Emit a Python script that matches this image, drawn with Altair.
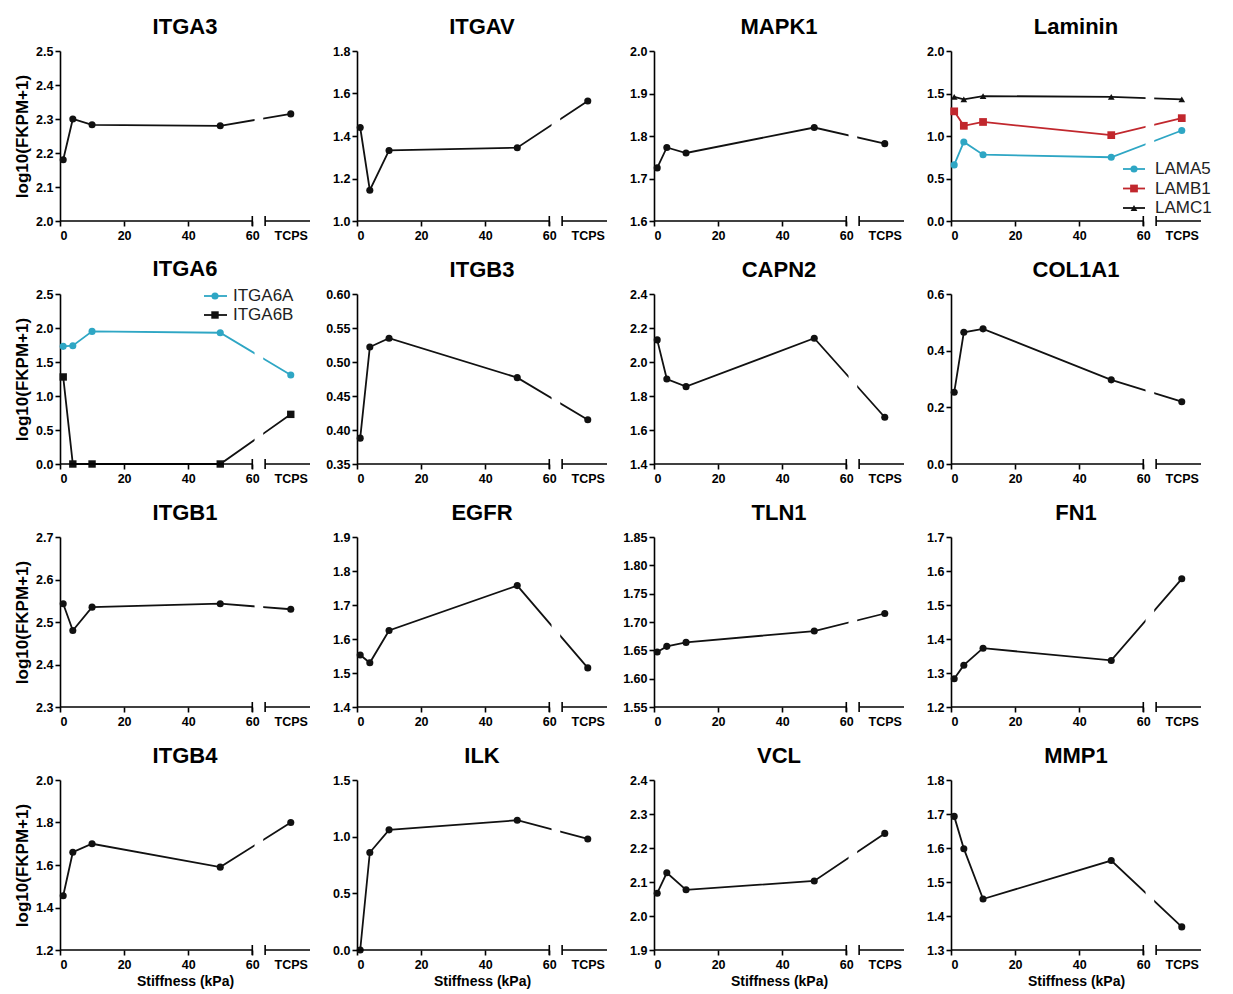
import altair as alt
import pandas as pd

# ---------------- data ----------------
X_POS = [1, 4, 10, 50, 72]          # 72 = position used for "TCPS"
X_TICKS = [0, 20, 40, 60, 72]

ITGA3 = [2.18, 2.30, 2.283, 2.28, 2.315]
ITGAV = [1.44, 1.145, 1.332, 1.345, 1.565]
MAPK1 = [1.725, 1.773, 1.760, 1.820, 1.782]
LAMA5 = [0.66, 0.93, 0.78, 0.75, 1.065]
LAMB1 = [1.29, 1.12, 1.165, 1.01, 1.21]
LAMC1 = [1.46, 1.43, 1.47, 1.46, 1.43]
ITGA6A = [1.73, 1.74, 1.95, 1.93, 1.31]
ITGA6B = [1.28, 0.0, 0.0, 0.0, 0.73]
ITGB3 = [0.388, 0.522, 0.535, 0.477, 0.415]
CAPN2 = [2.13, 1.90, 1.855, 2.14, 1.675]
COL1A1 = [0.253, 0.465, 0.477, 0.297, 0.22]
ITGB1 = [2.543, 2.48, 2.535, 2.543, 2.53]
EGFR = [1.553, 1.53, 1.625, 1.757, 1.515]
TLN1 = [1.647, 1.657, 1.664, 1.684, 1.715]
FN1 = [1.283, 1.323, 1.373, 1.337, 1.577]
ITGB4 = [1.455, 1.66, 1.70, 1.59, 1.80]
ILK = [0.0, 0.86, 1.06, 1.145, 0.98]
VCL = [2.067, 2.127, 2.077, 2.103, 2.243]
MMP1 = [1.693, 1.598, 1.45, 1.563, 1.368]

T_ITGA3 = [2.0, 2.1, 2.2, 2.3, 2.4, 2.5]
T_ITGAV = [1.0, 1.2, 1.4, 1.6, 1.8]
T_MAPK1 = [1.6, 1.7, 1.8, 1.9, 2.0]
T_LAM = [0.0, 0.5, 1.0, 1.5, 2.0]
T_ITGA6 = [0.0, 0.5, 1.0, 1.5, 2.0, 2.5]
T_ITGB3 = [0.35, 0.40, 0.45, 0.50, 0.55, 0.60]
T_CAPN2 = [1.4, 1.6, 1.8, 2.0, 2.2, 2.4]
T_COL1A1 = [0.0, 0.2, 0.4, 0.6]
T_ITGB1 = [2.3, 2.4, 2.5, 2.6, 2.7]
T_EGFR = [1.4, 1.5, 1.6, 1.7, 1.8, 1.9]
T_TLN1 = [1.55, 1.60, 1.65, 1.70, 1.75, 1.80, 1.85]
T_FN1 = [1.2, 1.3, 1.4, 1.5, 1.6, 1.7]
T_ITGB4 = [1.2, 1.4, 1.6, 1.8, 2.0]
T_ILK = [0.0, 0.5, 1.0, 1.5]
T_VCL = [1.9, 2.0, 2.1, 2.2, 2.3, 2.4]
T_MMP1 = [1.3, 1.4, 1.5, 1.6, 1.7, 1.8]

TEAL = "#2ea6c4"
RED = "#c1272d"
BLACK = "#111111"

# ---------------- layout ----------------
W, H = 250, 170
XMAX = 78
FONT = "Liberation Sans"
ONE = pd.DataFrame({"k": [0]})


def panel(title, series, yticks, fmt, col, row, legend=None):
    xs = alt.Scale(domain=[0, XMAX], nice=False, zero=False)
    ys = alt.Scale(domain=[yticks[0], yticks[-1]], nice=False, zero=False)
    xaxis = alt.Axis(
        values=X_TICKS,
        labelExpr="datum.value == 72 ? 'TCPS' : datum.label",
        domain=False,
        tickOpacity={"condition": {"test": "datum.value == 72", "value": 0}, "value": 1},
        title="Stiffness (kPa)" if row == 3 else None,
    )
    yaxis = alt.Axis(values=yticks, format=fmt,
                     title="log10(FKPM+1)" if col == 0 else None)
    layers = []
    for i, (name, vals, color, shape, size) in enumerate(series):
        df = pd.DataFrame({"x": X_POS, "y": vals, "series": name})
        base = alt.Chart(df)
        enc = dict(x=alt.X("x:Q", scale=xs, axis=xaxis),
                   y=alt.Y("y:Q", scale=ys, axis=yaxis))
        layers.append(base.mark_line(color=color, strokeWidth=1.8).encode(**enc))
        layers.append(base.mark_point(shape=shape, filled=True, color=color,
                                      size=size, opacity=1).encode(**enc))
    # axis break: white gap in the lines
    layers.append(alt.Chart(ONE).mark_rect(color="white").encode(
        x=alt.XDatum(60.7, type="quantitative", scale=xs, axis=xaxis),
        x2=alt.X2Datum(63.4),
        y=alt.value(-2), y2=alt.value(H - 6),
    ))
    # broken x axis line
    for a, b in [(0, 60), (64, XMAX)]:
        layers.append(alt.Chart(ONE).mark_rule(color="black", strokeWidth=1.6).encode(
            x=alt.XDatum(a, type="quantitative", scale=xs, axis=xaxis),
            x2=alt.X2Datum(b),
            y=alt.value(H),
        ))
    for a in [60, 64]:
        layers.append(alt.Chart(ONE).mark_rule(color="black", strokeWidth=1.6).encode(
            x=alt.XDatum(a, type="quantitative", scale=xs, axis=xaxis),
            y=alt.value(H - 5), y2=alt.value(H + 5),
        ))
    # legend
    if legend is not None:
        lx0, lx1, mx, tx, y0, dy = legend
        for j, (name, vals, color, shape, size) in enumerate(series):
            ly = y0 + j * dy
            ldf = pd.DataFrame({"name": [name]})
            lc = alt.Chart(ldf)
            layers.append(lc.mark_rule(color=color, strokeWidth=1.8).encode(
                x=alt.value(lx0), x2=alt.value(lx1), y=alt.value(ly)))
            layers.append(lc.mark_point(shape=shape, filled=True, color=color,
                                        size=size, opacity=1).encode(
                x=alt.value(mx), y=alt.value(ly)))
            layers.append(lc.mark_text(align="left", baseline="middle", font=FONT,
                                       fontSize=17, color="#222222").encode(
                x=alt.value(tx), y=alt.value(ly), text="name:N"))
    return alt.layer(*layers).properties(
        width=W, height=H,
        title=alt.TitleParams(title, anchor="middle", offset=6),
    )


def single(name, vals):
    return [(name, vals, BLACK, "circle", 50)]


panels = [
    panel("ITGA3", single("ITGA3", ITGA3), T_ITGA3, ".1f", 0, 0),
    panel("ITGAV", single("ITGAV", ITGAV), T_ITGAV, ".1f", 1, 0),
    panel("MAPK1", single("MAPK1", MAPK1), T_MAPK1, ".1f", 2, 0),
    panel("Laminin", [("LAMA5", LAMA5, TEAL, "circle", 50),
                      ("LAMB1", LAMB1, RED, "square", 60),
                      ("LAMC1", LAMC1, BLACK, "triangle-up", 45)],
          T_LAM, ".1f", 3, 0, legend=(172, 194, 183, 204, 118, 19.5)),
    panel("ITGA6", [("ITGA6A", ITGA6A, TEAL, "circle", 50),
                    ("ITGA6B", ITGA6B, BLACK, "square", 55)],
          T_ITGA6, ".1f", 0, 1, legend=(144, 167, 155, 173, 2, 19)),
    panel("ITGB3", single("ITGB3", ITGB3), T_ITGB3, ".2f", 1, 1),
    panel("CAPN2", single("CAPN2", CAPN2), T_CAPN2, ".1f", 2, 1),
    panel("COL1A1", single("COL1A1", COL1A1), T_COL1A1, ".1f", 3, 1),
    panel("ITGB1", single("ITGB1", ITGB1), T_ITGB1, ".1f", 0, 2),
    panel("EGFR", single("EGFR", EGFR), T_EGFR, ".1f", 1, 2),
    panel("TLN1", single("TLN1", TLN1), T_TLN1, ".2f", 2, 2),
    panel("FN1", single("FN1", FN1), T_FN1, ".1f", 3, 2),
    panel("ITGB4", single("ITGB4", ITGB4), T_ITGB4, ".1f", 0, 3),
    panel("ILK", single("ILK", ILK), T_ILK, ".1f", 1, 3),
    panel("VCL", single("VCL", VCL), T_VCL, ".1f", 2, 3),
    panel("MMP1", single("MMP1", MMP1), T_MMP1, ".1f", 3, 3),
]

chart = alt.concat(*panels, columns=4, spacing={"row": 73, "column": 47},
                   bounds="flush").properties(
    padding={"left": 5, "top": 8, "right": 0, "bottom": 0}
).configure_view(stroke=None).configure_axis(
    grid=False,
    labelFont=FONT, labelFontWeight="bold", labelFontSize=12.5, labelColor="black",
    labelPadding=2,
    titleFont=FONT, titleFontWeight="bold", titleColor="black",
    domainColor="black", domainWidth=1.6,
    tickColor="black", tickWidth=1.6, tickSize=5,
).configure_axisY(
    titleFontSize=17, titlePadding=4,
).configure_axisX(
    titleFontSize=14, titlePadding=4, labelPadding=3,
).configure_title(
    font=FONT, fontSize=22, fontWeight="bold", color="black",
)

chart.save("out.html", embed_options={"renderer": "svg", "actions": False})
